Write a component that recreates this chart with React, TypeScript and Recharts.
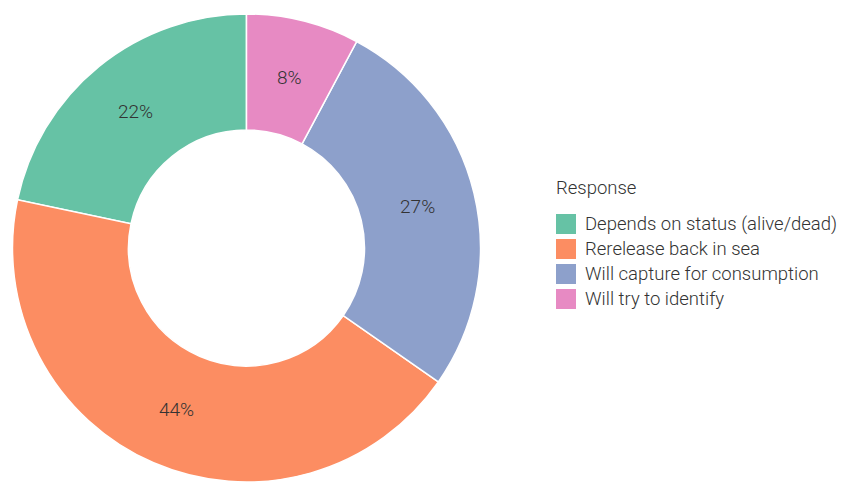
import { PieChart, Pie, Cell, Legend } from 'recharts';

const categories = [
  'Depends on status (alive/dead)',
  'Rerelease back in sea',
  'Will capture for consumption',
  'Will try to identify',
];
const shares = [21.7, 43.6, 26.9, 7.8];
const colors = ['#66c2a5', '#fc8d62', '#8da0cb', '#e78ac3'];
const legendTitle = 'Response';

const data = categories.map((name, i) => ({ name, value: shares[i] }));

const RADIAN = Math.PI / 180;
const FONT = 'Roboto, "Noto Sans", sans-serif';

const renderLabel = ({ cx, cy, midAngle, innerRadius, outerRadius, percent }: any) => {
  const r = (innerRadius + outerRadius) / 2;
  const x = cx + r * Math.cos(-midAngle * RADIAN);
  const y = cy + r * Math.sin(-midAngle * RADIAN);
  return (
    <text
      x={x}
      y={y}
      fill="#333"
      textAnchor="middle"
      dominantBaseline="central"
      style={{ fontFamily: FONT, fontSize: 19, fontWeight: 300 }}
    >
      {`${Math.round(percent * 100)}%`}
    </text>
  );
};

const LegendBox = ({ payload }: any) => (
  <div style={{ fontFamily: FONT, fontWeight: 300, color: '#333' }}>
    <div style={{ fontSize: 18.5, lineHeight: '22px', marginBottom: 12 }}>{legendTitle}</div>
    {(payload || []).map((p: any) => (
      <div key={p.value} style={{ display: 'flex', alignItems: 'center', height: 25 }}>
        <span style={{ width: 20, height: 20, background: p.color, marginRight: 9, display: 'inline-block' }} />
        <span style={{ fontSize: 18.5, lineHeight: '20px', whiteSpace: 'nowrap' }}>{p.value}</span>
      </div>
    ))}
  </div>
);

export default function App() {
  return (
    <div style={{ position: 'absolute', left: 0, top: 0, background: '#fff' }}>
      <PieChart width={841} height={488} margin={{ top: 0, right: 0, bottom: 0, left: 0 }}>
        <Pie
          data={data}
          dataKey="value"
          nameKey="name"
          cx={246.5}
          cy={248}
          innerRadius={118}
          outerRadius={234}
          startAngle={90}
          endAngle={450}
          stroke="#fff"
          strokeWidth={1.5}
          label={renderLabel}
          labelLine={false}
          isAnimationActive={false}
        >
          {data.map((d, i) => (
            <Cell key={d.name} fill={colors[i]} />
          ))}
        </Pie>
        <Legend
          content={<LegendBox />}
          layout="vertical"
          wrapperStyle={{ position: 'absolute', left: 556, top: 177, width: 285, height: 'auto' }}
        />
      </PieChart>
    </div>
  );
}
